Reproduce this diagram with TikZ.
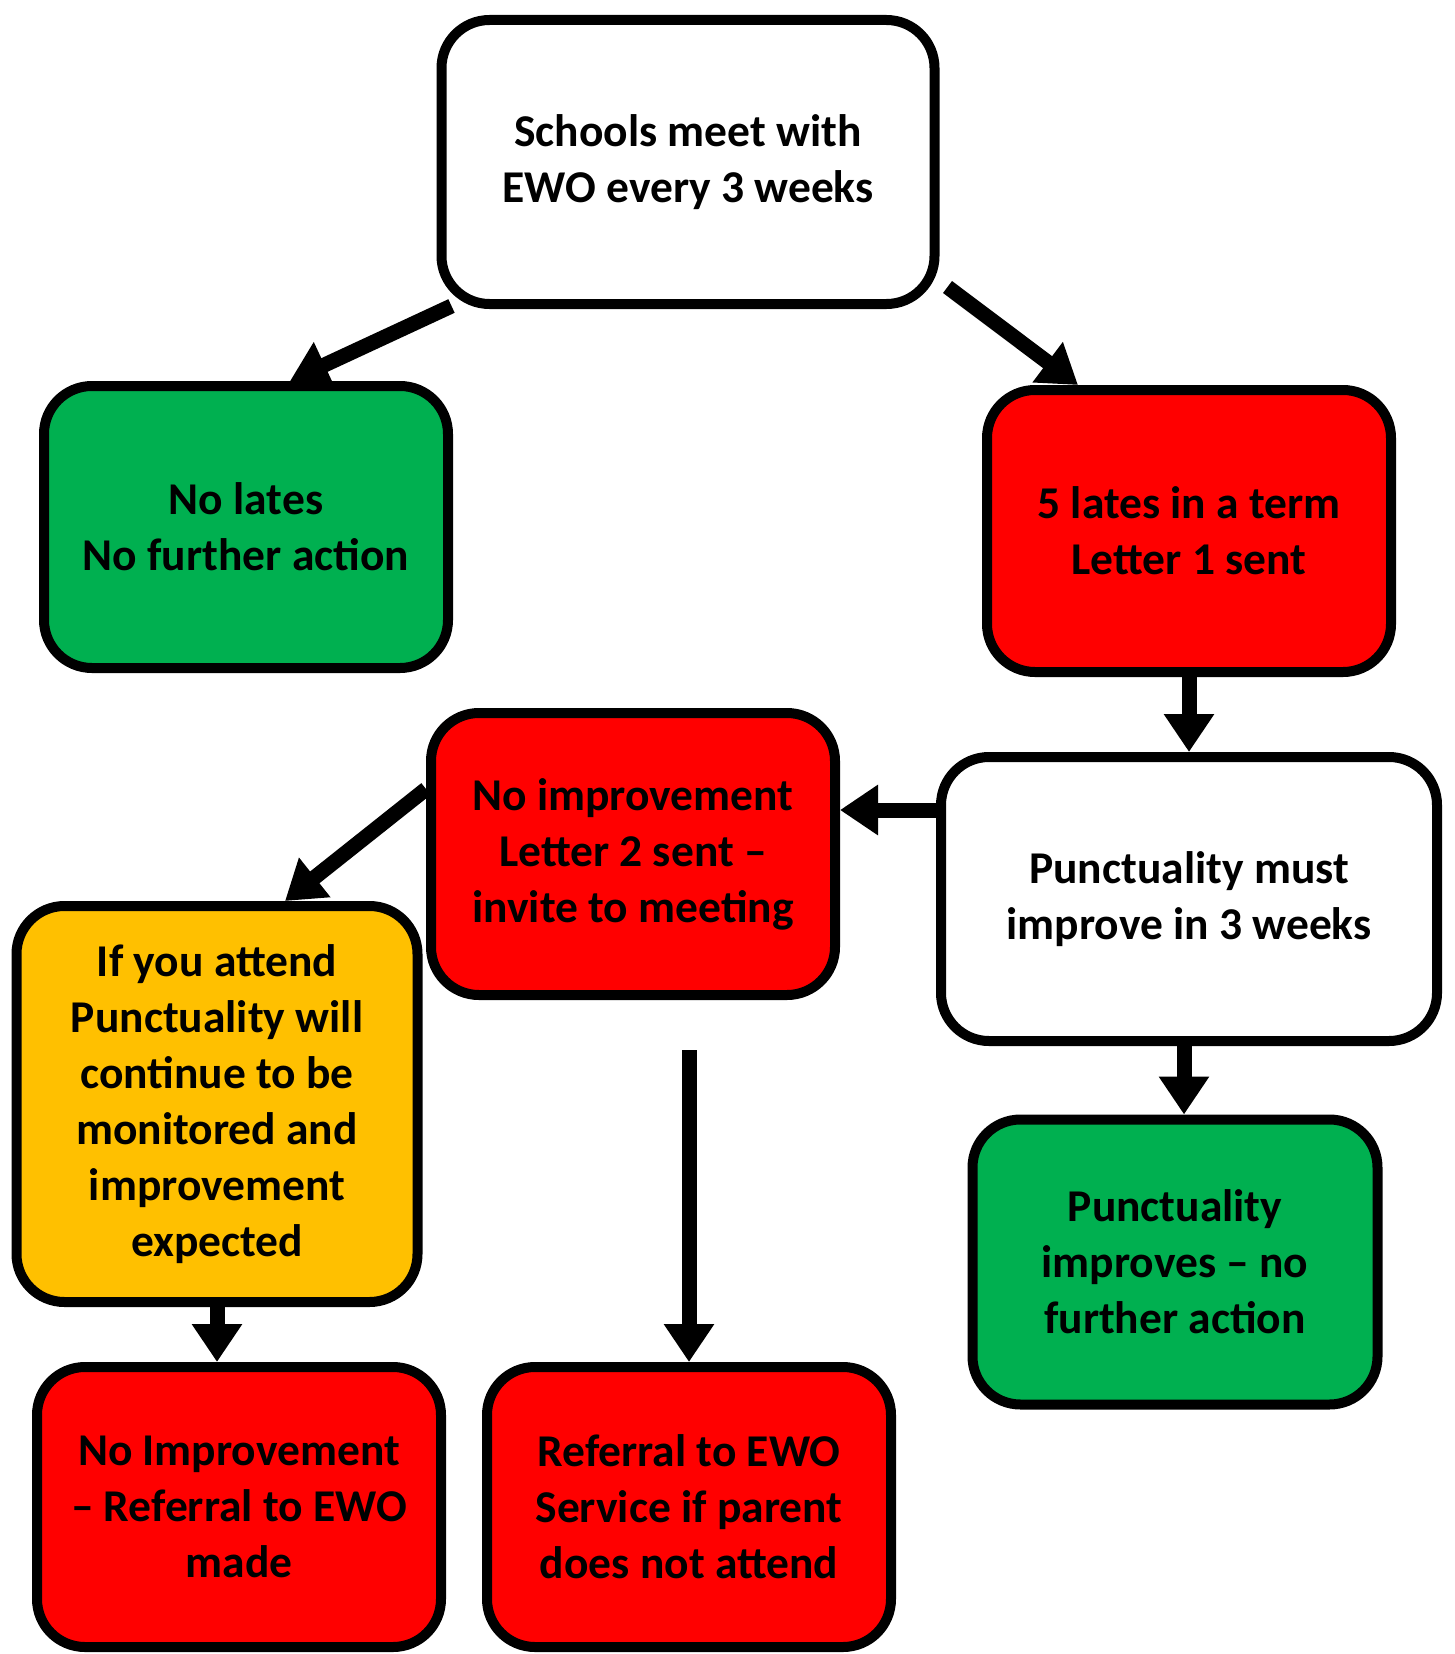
\documentclass[tikz,border=0pt]{standalone}
\usepackage{fontspec}
\setmainfont{Carlito}
\usetikzlibrary{arrows.meta}

\definecolor{lategreen}{RGB}{0,176,80}
\definecolor{latered}{RGB}{255,0,0}
\definecolor{lateamber}{RGB}{255,192,0}

\begin{document}
\begin{tikzpicture}[x=1pt, y=-1pt,
    box/.style = {draw, line width=10pt, rounded corners=48pt, align=center,
                  inner sep=0pt, font=\fontsize{45.5}{56}\selectfont\bfseries},
    redbox/.style = {box, fill=latered, minimum width=404pt, minimum height=282pt},
    arr/.style = {line width=15pt, -{Triangle[length=38pt,width=48pt]}}]
    \useasboundingbox (0,0) rectangle (1455,1654);

    \node[box, minimum width=493pt, minimum height=284pt] (meet) at (688,162) {Schools meet with\\EWO every 3 weeks};
    \node[box, fill=lategreen, minimum width=404pt, minimum height=282pt] (nolates) at (246,527) {No lates\\No further action};
    \node[redbox] (letter1) at (1189,531) {5 lates in a term\\Letter 1 sent};
    \node[box, minimum width=496pt, minimum height=284pt] (improve) at (1189,899) {Punctuality must\\improve in 3 weeks};
    \node[redbox] (letter2) at (633,854) {No improvement\\Letter 2 sent –\\invite to meeting};
    \node[box, fill=lateamber, minimum width=401pt, minimum height=396pt] (attend) at (217,1104) {If you attend\\Punctuality will\\continue to be\\monitored and\\improvement\\expected};
    \node[box, fill=lategreen, minimum width=405pt, minimum height=285pt] (improves) at (1175,1262) {Punctuality\\improves – no\\further action};
    \node[redbox, minimum height=280pt] (referral) at (239,1507) {No Improvement\\– Referral to EWO\\made};
    \node[redbox, minimum height=280pt] (service) at (689,1507) {Referral to EWO\\Service if parent\\does not attend};

    \coordinate (gap) at (689,1050);

    \draw[arr] ([xshift=15pt,yshift=3pt]meet.south west) -- ([xshift=44pt]nolates.north);
    \draw[arr] ([xshift=8pt,yshift=-125pt]meet.east) -- ([xshift=-111pt]letter1.north);
    \draw[arr] (letter1.south) -- (improve.north);
    \draw[arr] ([yshift=89pt]improve.west) -- ([yshift=44pt]letter2.east);
    \draw[arr] ([yshift=65pt]letter2.west) -- ([xshift=68pt]attend.north);
    \draw[arr] (gap) -- (service.north);
    \draw[arr] (attend.south) -- (attend.south |- referral.north);
    \draw[arr] ([xshift=-5pt]improve.south) -- ([xshift=-5pt]improve.south |- improves.north);
\end{tikzpicture}
\end{document}
